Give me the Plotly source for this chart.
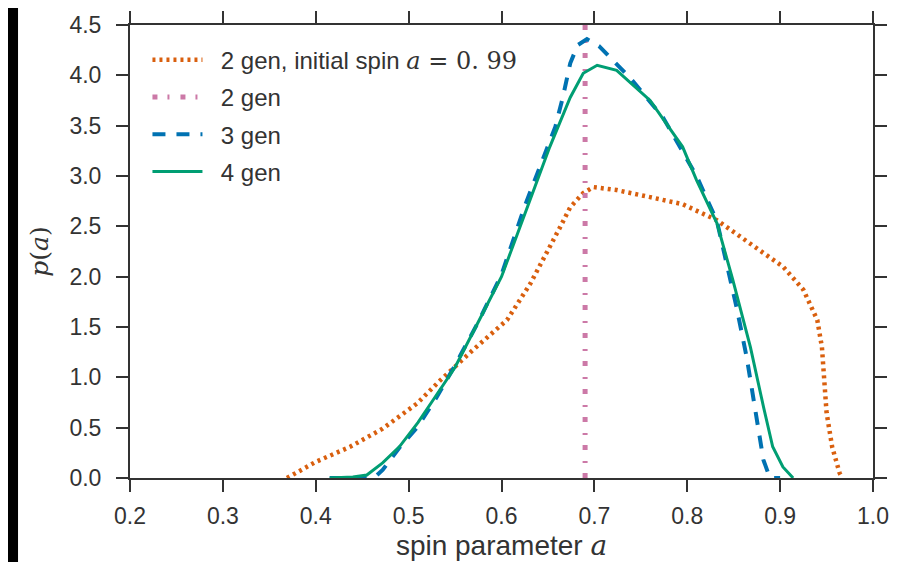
import plotly.graph_objects as go

# ---- data ----
orange_x = [0.369, 0.40, 0.437, 0.472, 0.509, 0.534, 0.569, 0.606, 0.631, 0.65, 0.663, 0.674, 0.688, 0.699,
            0.724, 0.76, 0.795, 0.832, 0.868, 0.903, 0.925, 0.94, 0.945, 0.947, 0.95, 0.956, 0.964, 0.967]
orange_y = [0.0, 0.16, 0.31, 0.49, 0.74, 0.97, 1.27, 1.57, 1.93, 2.25, 2.49, 2.69, 2.83, 2.89,
            2.86, 2.79, 2.72, 2.56, 2.33, 2.10, 1.87, 1.57, 1.30, 0.97, 0.65, 0.31, 0.05, 0.0]

pink_x = [0.69, 0.69]
pink_y = [0.0, 4.5]

blue_x = [0.415, 0.455, 0.465, 0.472, 0.49, 0.509, 0.53, 0.55, 0.575, 0.60, 0.625, 0.658, 0.666, 0.674,
          0.682, 0.692, 0.705, 0.717, 0.738, 0.774, 0.81, 0.832, 0.853, 0.864, 0.873, 0.882, 0.889, 0.90]
blue_y = [0.0, 0.0, 0.02, 0.08, 0.30, 0.50, 0.80, 1.12, 1.55, 2.02, 2.7, 3.49, 3.78, 4.12,
          4.30, 4.36, 4.29, 4.18, 3.98, 3.58, 3.0, 2.55, 1.70, 1.2, 0.68, 0.18, 0.0, 0.0]

green_x = [0.415, 0.44, 0.455, 0.472, 0.49, 0.51, 0.526, 0.55, 0.575, 0.60, 0.625, 0.652, 0.674, 0.688,
           0.703, 0.724, 0.76, 0.795, 0.81, 0.832, 0.849, 0.868, 0.882, 0.892, 0.903, 0.914]
green_y = [0.0, 0.01, 0.03, 0.15, 0.31, 0.55, 0.77, 1.1, 1.55, 2.0, 2.62, 3.29, 3.78, 4.02,
           4.10, 4.05, 3.75, 3.29, 2.96, 2.53, 1.97, 1.30, 0.71, 0.31, 0.11, 0.0]

x_ticks = [0.2, 0.3, 0.4, 0.5, 0.6, 0.7, 0.8, 0.9, 1.0]
y_ticks = [0.0, 0.5, 1.0, 1.5, 2.0, 2.5, 3.0, 3.5, 4.0, 4.5]

SERIF = "DejaVu Serif"
SANS = "Liberation Sans, Arial, sans-serif"
PAD = "&nbsp;&nbsp;"

fig = go.Figure()
fig.add_trace(go.Scatter(
    x=orange_x, y=orange_y, mode="lines", legendgroup="g1",
    name=PAD + "2 gen, initial spin <span style='font-family:%s'><i>a</i> = 0. 99</span>" % SERIF,
    line=dict(color="#D95F0E", width=4.5, dash="3px,4px")))
fig.add_trace(go.Scatter(
    x=pink_x, y=pink_y, mode="lines", legendgroup="g2", name=PAD + "2 gen",
    line=dict(color="#CC79A7", width=5, dash="5px,10px,2px,11px")))
fig.add_trace(go.Scatter(
    x=blue_x, y=blue_y, mode="lines", legendgroup="g3", name=PAD + "3 gen",
    line=dict(color="#0072B2", width=4, dash="13px,11px")))
fig.add_trace(go.Scatter(
    x=green_x, y=green_y, mode="lines", legendgroup="g4", name=PAD + "4 gen",
    line=dict(color="#009E73", width=3)))

axis_common = dict(
    showgrid=False, zeroline=False, showline=True, linecolor="#333333", linewidth=2,
    mirror="ticks", ticks="outside", ticklen=12, tickwidth=1.5, tickcolor="#333333",
    tickfont=dict(family=SANS, size=23, color="#333333"), automargin=False,
)

fig.update_xaxes(range=[0.2, 1.0], tickvals=x_ticks, ticktext=["%.1f" % v for v in x_ticks],
                 ticklabelstandoff=4,
                 title=dict(text="spin parameter <span style='font-family:%s'><i>a</i></span>" % SERIF,
                            font=dict(family=SANS, size=28, color="#333333"), standoff=4),
                 **axis_common)
fig.update_yaxes(range=[0.0, 4.5], tickvals=y_ticks, ticktext=["%.1f" % v for v in y_ticks],
                 ticklabelstandoff=10,
                 title=dict(text="<i>p</i>(<i>a</i>)",
                            font=dict(family=SERIF, size=25, color="#333333"), standoff=14),
                 **axis_common)

fig.update_layout(
    width=891, height=554,
    margin=dict(l=122, r=26, t=17, b=84),
    paper_bgcolor="white", plot_bgcolor="white",
    showlegend=True,
    legend=dict(x=0.0235, y=0.972, xanchor="left", yanchor="top", bgcolor="rgba(0,0,0,0)",
                borderwidth=0, tracegroupgap=3, itemwidth=50,
                font=dict(family=SANS, size=24, color="#333333")),
    shapes=[
        dict(type="rect", xref="paper", yref="paper", x0=-0.1642, x1=-0.1507, y0=-0.3, y1=1.2,
             fillcolor="black", line=dict(width=0), layer="above"),
    ],
)

fig.write_html("out.html")
